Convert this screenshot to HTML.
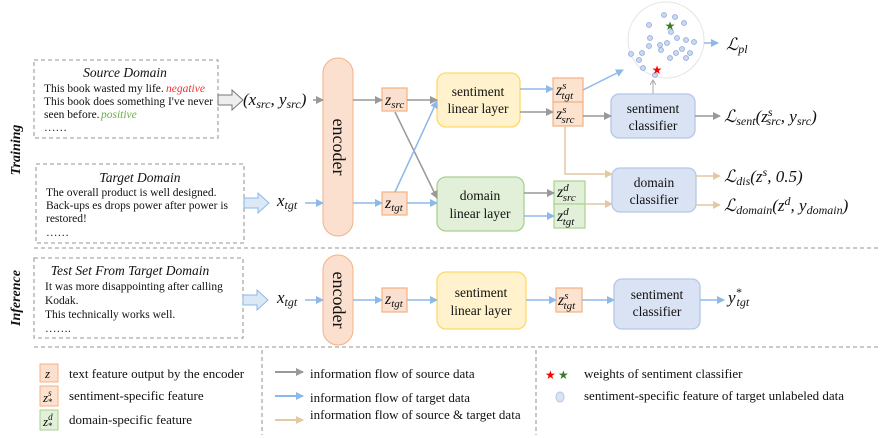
<!DOCTYPE html>
<html><head><meta charset="utf-8"><style>
body{margin:0;background:#fff}
svg{display:block}
text{font-family:"Liberation Serif",serif;fill:#111}
.m{font-style:italic;font-family:"Liberation Serif",serif}
</style></head><body>
<svg width="890" height="438" viewBox="0 0 890 438" xmlns="http://www.w3.org/2000/svg">
<defs>
<marker id="ag" markerWidth="8" markerHeight="8" refX="7" refY="4" orient="auto" markerUnits="userSpaceOnUse"><path d="M0,0 L8,4 L0,8 z" fill="#999"/></marker>
<marker id="ab" markerWidth="8" markerHeight="8" refX="7" refY="4" orient="auto" markerUnits="userSpaceOnUse"><path d="M0,0 L8,4 L0,8 z" fill="#8db8ea"/></marker>
<marker id="at" markerWidth="8" markerHeight="8" refX="7" refY="4" orient="auto" markerUnits="userSpaceOnUse"><path d="M0,0 L8,4 L0,8 z" fill="#e2c9a4"/></marker>
<marker id="as" markerWidth="6" markerHeight="6" refX="5" refY="3" orient="auto" markerUnits="userSpaceOnUse"><path d="M0,0 L5,3 L0,6" fill="none" stroke="#aaa"/></marker>
</defs>
<g stroke="#aaa" stroke-dasharray="4,3" fill="none" stroke-width="1.3">
<rect x="34" y="60" width="184" height="78"/>
<rect x="36" y="164" width="208" height="79"/>
<rect x="34" y="258" width="209" height="80"/>
<line x1="34" y1="248" x2="880" y2="248"/>
<line x1="34" y1="347" x2="880" y2="347"/>
<line x1="262" y1="350" x2="262" y2="435"/>
<line x1="536" y1="350" x2="536" y2="435"/>
</g>
<text x="20" y="150" font-size="14" font-weight="bold" font-style="italic" transform="rotate(-90 20 150)" text-anchor="middle">Training</text>
<text x="20" y="298" font-size="14" font-weight="bold" font-style="italic" transform="rotate(-90 20 298)" text-anchor="middle">Inference</text>
<g font-size="11.5">
<text x="125" y="77" text-anchor="middle" font-style="italic" font-size="13.5">Source Domain</text>
<text x="44" y="92">This book wasted my life.</text><text x="166" y="92" font-style="italic" style="fill:#f03030">negative</text>
<text x="44" y="105">This book does something I've never</text>
<text x="44" y="118">seen before.</text><text x="101" y="118" font-style="italic" style="fill:#70ad47">positive</text>
<text x="44" y="131">……</text>
<text x="140" y="182" text-anchor="middle" font-style="italic" font-size="13.5">Target Domain</text>
<text x="46" y="196">The overall product is well designed.</text>
<text x="46" y="209">Back-ups es drops power after power is</text>
<text x="46" y="222">restored!</text>
<text x="46" y="236">……</text>
<text x="130" y="275" text-anchor="middle" font-style="italic" font-size="13.5">Test Set From Target Domain</text>
<text x="45" y="290">It was more disappointing  after calling</text>
<text x="45" y="304">Kodak.</text>
<text x="45" y="318">This technically works well.</text>
<text x="45" y="332">…….</text>
</g>
<path d="M218,95 h14 v-5 l11,10 l-11,10 v-5 h-14z" fill="#eee" stroke="#777"/>
<path d="M244,198 h14 v-5 l11,10 l-11,10 v-5 h-14z" fill="#dbe8f6" stroke="#8db8ea"/>
<path d="M243,295 h14 v-5 l11,10 l-11,10 v-5 h-14z" fill="#dbe8f6" stroke="#8db8ea"/>
<text x="243" y="105" class="m" font-size="17">(x<tspan font-size="12" dy="3">src</tspan><tspan dy="-3">, y</tspan><tspan font-size="12" dy="3">src</tspan><tspan dy="-3">)</tspan></text>
<text x="277" y="206" class="m" font-size="17">x<tspan font-size="12" dy="3">tgt</tspan></text>
<text x="277" y="303" class="m" font-size="17">x<tspan font-size="12" dy="3">tgt</tspan></text>
<rect x="323" y="58" width="30" height="178" rx="15" fill="#fbe0cf" stroke="#f4b183"/>
<rect x="323" y="255" width="30" height="90" rx="15" fill="#fbe0cf" stroke="#f4b183"/>
<text x="338" y="147" font-size="18" transform="rotate(90 338 147)" text-anchor="middle" dy="5">encoder</text>
<text x="338" y="300" font-size="18" transform="rotate(90 338 300)" text-anchor="middle" dy="5">encoder</text>
<g fill="#fbe0cf" stroke="#f4b183" stroke-width="1.2">
<rect x="382" y="88" width="25" height="23"/><rect x="382" y="192" width="25" height="23"/><rect x="382" y="288" width="25" height="24"/>
</g>
<g fill="#fbe3d0" stroke="#f4b183" stroke-width="1.2">
<rect x="553" y="78" width="30" height="24"/><rect x="553" y="102" width="30" height="24"/><rect x="556" y="288" width="26" height="24"/>
</g>
<g fill="#e2f0d9" stroke="#a9d18e" stroke-width="1.2">
<rect x="554" y="181" width="31" height="23"/><rect x="554" y="204" width="31" height="24"/>
</g>
<g class="m" font-size="16">
<text x="385" y="105">z<tspan font-size="11" dy="3">src</tspan></text>
<text x="385" y="208">z<tspan font-size="11" dy="3">tgt</tspan></text>
<text x="385" y="304">z<tspan font-size="11" dy="3">tgt</tspan></text>
<text x="556" y="95">z<tspan font-size="11" dy="-6">s</tspan><tspan font-size="11" dx="-5" dy="10">tgt</tspan></text>
<text x="556" y="119">z<tspan font-size="11" dy="-6">s</tspan><tspan font-size="11" dx="-5" dy="10">src</tspan></text>
<text x="557" y="197">z<tspan font-size="11" dy="-6">d</tspan><tspan font-size="11" dx="-6" dy="10">src</tspan></text>
<text x="557" y="221">z<tspan font-size="11" dy="-6">d</tspan><tspan font-size="11" dx="-6" dy="10">tgt</tspan></text>
<text x="558" y="305">z<tspan font-size="11" dy="-6">s</tspan><tspan font-size="11" dx="-5" dy="10">tgt</tspan></text>
</g>
<rect x="437" y="73" width="83" height="54" rx="9" fill="#fff2cc" stroke="#ffd966" stroke-width="1.3"/>
<rect x="437" y="177" width="87" height="54" rx="9" fill="#e2f0d9" stroke="#a9d18e" stroke-width="1.3"/>
<rect x="437" y="272" width="89" height="57" rx="9" fill="#fff2cc" stroke="#ffd966" stroke-width="1.3"/>
<rect x="611" y="94" width="84" height="44" rx="8" fill="#dae3f3" stroke="#b4c7e7" stroke-width="1.3"/>
<rect x="612" y="168" width="84" height="44" rx="8" fill="#dae3f3" stroke="#b4c7e7" stroke-width="1.3"/>
<rect x="614" y="279" width="86" height="50" rx="8" fill="#dae3f3" stroke="#b4c7e7" stroke-width="1.3"/>
<g font-size="13.5" text-anchor="middle">
<text x="478" y="96">sentiment</text><text x="478" y="113">linear layer</text>
<text x="480" y="200">domain</text><text x="480" y="218">linear layer</text>
<text x="481" y="297">sentiment</text><text x="481" y="315">linear layer</text>
<text x="653" y="113">sentiment</text><text x="653" y="130">classifier</text>
<text x="654" y="187">domain</text><text x="654" y="204">classifier</text>
<text x="657" y="299">sentiment</text><text x="657" y="316">classifier</text>
</g>
<circle cx="666" cy="40" r="38" fill="#fff" stroke="#e3e3e3"/>
<g fill="#c9d7f0" stroke="#8fa9dd" stroke-width="0.8">
<circle cx="649" cy="25" r="2.5"/><circle cx="650" cy="38" r="2.5"/><circle cx="642" cy="53" r="2.5"/><circle cx="631" cy="54" r="2.5"/><circle cx="649" cy="46" r="2.5"/><circle cx="675" cy="17" r="2.5"/><circle cx="664" cy="15" r="2.5"/><circle cx="671" cy="32" r="2.5"/><circle cx="684" cy="23" r="2.5"/><circle cx="677" cy="38" r="2.5"/><circle cx="686" cy="40" r="2.5"/><circle cx="660" cy="45" r="2.5"/><circle cx="661" cy="50" r="2.5"/><circle cx="676" cy="53" r="2.5"/><circle cx="682" cy="49" r="2.5"/><circle cx="670" cy="58" r="2.5"/><circle cx="639" cy="60" r="2.5"/><circle cx="643" cy="68" r="2.5"/><circle cx="655" cy="75" r="2.5"/><circle cx="686" cy="58" r="2.5"/><circle cx="690" cy="53" r="2.5"/><circle cx="694" cy="42" r="2.5"/><circle cx="667" cy="43" r="2.5"/>
</g>
<text x="670" y="30" font-size="12" text-anchor="middle" style="fill:#3a7a2a">★</text>
<text x="657" y="74" font-size="12" text-anchor="middle" style="fill:#f00">★</text>
<g stroke="#999" stroke-width="1.5" fill="none" marker-end="url(#ag)">
<line x1="313" y1="100" x2="323" y2="100"/>
<line x1="353" y1="100" x2="382" y2="100"/>
<line x1="407" y1="100" x2="437" y2="100"/>
<line x1="395" y1="112" x2="437" y2="198"/>
<line x1="520" y1="112" x2="553" y2="112"/>
<line x1="524" y1="193" x2="554" y2="193"/>
<line x1="583" y1="116" x2="611" y2="116"/>
<line x1="695" y1="116" x2="720" y2="116"/>
</g>
<line x1="653" y1="94" x2="653" y2="80" stroke="#aaa" stroke-width="1" marker-end="url(#as)"/>
<g stroke="#8db8ea" stroke-width="1.5" fill="none" marker-end="url(#ab)">
<line x1="305" y1="203" x2="323" y2="203"/>
<line x1="353" y1="203" x2="382" y2="203"/>
<line x1="407" y1="203" x2="437" y2="203"/>
<line x1="395" y1="192" x2="437" y2="101"/>
<line x1="520" y1="89" x2="553" y2="89"/>
<line x1="524" y1="216" x2="554" y2="216"/>
<line x1="583" y1="90" x2="623" y2="70"/>
<line x1="704" y1="43" x2="718" y2="43"/>
<line x1="305" y1="300" x2="323" y2="300"/>
<line x1="353" y1="300" x2="382" y2="300"/>
<line x1="407" y1="300" x2="437" y2="300"/>
<line x1="526" y1="300" x2="556" y2="300"/>
<line x1="582" y1="300" x2="614" y2="300"/>
<line x1="700" y1="300" x2="724" y2="300"/>
</g>
<g stroke="#e2c9a4" stroke-width="1.5" fill="none" marker-end="url(#at)">
<polyline points="565,126 565,174 612,174"/>
<line x1="585" y1="204" x2="612" y2="204"/>
<line x1="696" y1="176" x2="720" y2="176"/>
<line x1="696" y1="205" x2="720" y2="205"/>
</g>
<g class="m" font-size="17">
<text x="726" y="50">ℒ<tspan font-size="12" dy="3">pl</tspan></text>
<text x="724" y="122">ℒ<tspan font-size="12" dy="3">sent</tspan><tspan dy="-3">(z</tspan><tspan font-size="12" dy="-6">s</tspan><tspan font-size="12" dx="-6" dy="9">src</tspan><tspan dy="-3">, y</tspan><tspan font-size="12" dy="3">src</tspan><tspan dy="-3">)</tspan></text>
<text x="724" y="182">ℒ<tspan font-size="12" dy="3">dis</tspan><tspan dy="-3">(z</tspan><tspan font-size="12" dy="-6">s</tspan><tspan dy="6">, 0.5)</tspan></text>
<text x="724" y="211">ℒ<tspan font-size="12" dy="3">domain</tspan><tspan dy="-3">(z</tspan><tspan font-size="12" dy="-6">d</tspan><tspan dy="6">, y</tspan><tspan font-size="12" dy="3">domain</tspan><tspan dy="-3">)</tspan></text>
<text x="728" y="303">y<tspan font-size="12" dy="-7">*</tspan><tspan font-size="12" dx="-5" dy="10">tgt</tspan></text>
</g>
<rect x="40" y="364" width="18" height="18" fill="#fbe0cf" stroke="#f4b183"/>
<rect x="40" y="386" width="18" height="20" fill="#fbe3d0" stroke="#f4b183"/>
<rect x="40" y="410" width="18" height="20" fill="#e2f0d9" stroke="#a9d18e"/>
<g class="m" font-size="13">
<text x="45" y="378">z</text>
<text x="43" y="402">z<tspan font-size="9" dy="-6">s</tspan><tspan font-size="9" dx="-4" dy="9">*</tspan></text>
<text x="43" y="426">z<tspan font-size="9" dy="-6">d</tspan><tspan font-size="9" dx="-5" dy="9">*</tspan></text>
</g>
<g font-size="13">
<text x="69" y="378">text feature output by the encoder</text>
<text x="69" y="400">sentiment-specific feature</text>
<text x="69" y="424">domain-specific feature</text>
<text x="310" y="378">information flow of source data</text>
<text x="310" y="402">information flow of target data</text>
<text x="310" y="419">information flow of source &amp; target data</text>
<text x="584" y="378">weights of sentiment classifier</text>
<text x="584" y="400">sentiment-specific feature of target unlabeled data</text>
</g>
<line x1="275" y1="372" x2="303" y2="372" stroke="#999" stroke-width="2" marker-end="url(#ag)"/>
<line x1="275" y1="396" x2="303" y2="396" stroke="#8db8ea" stroke-width="2" marker-end="url(#ab)"/>
<line x1="275" y1="420" x2="303" y2="420" stroke="#e2c9a4" stroke-width="2" marker-end="url(#at)"/>
<text x="545" y="379" font-size="12" style="fill:#f00">★</text>
<text x="558" y="379" font-size="12" style="fill:#3a7a2a">★</text>
<ellipse cx="560" cy="397" rx="4" ry="5" fill="#dae3f3" stroke="#b4c7e7"/>
</svg>
</body></html>
